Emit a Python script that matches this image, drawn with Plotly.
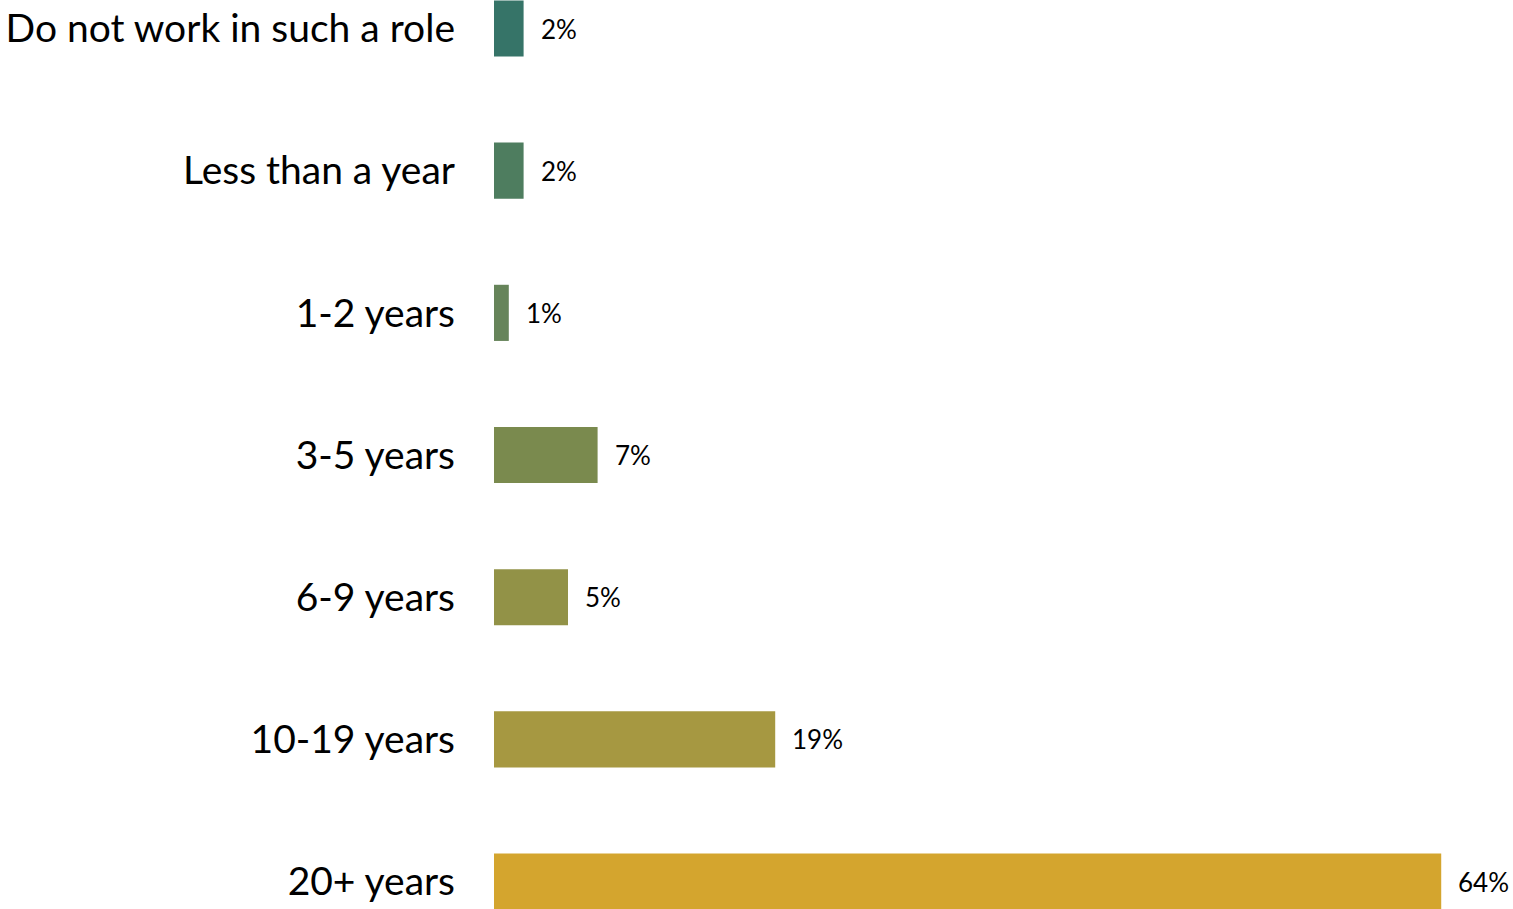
import plotly.graph_objects as go

# Years working in such a role (share of respondents, %)
categories = [
    "Do not work in such a role",
    "Less than a year",
    "1-2 years",
    "3-5 years",
    "6-9 years",
    "10-19 years",
    "20+ years",
]
values = [2, 2, 1, 7, 5, 19, 64]
value_labels = ["2%", "2%", "1%", "7%", "5%", "19%", "64%"]
bar_colors = ["#367468", "#4E7D5F", "#66845A", "#7A8A4E", "#929247", "#A69841", "#D4A52E"]

fig = go.Figure(
    go.Bar(
        x=values,
        y=categories,
        orientation="h",
        marker=dict(color=bar_colors, line=dict(width=0)),
        width=0.395,
        hoverinfo="skip",
    )
)

# value labels to the right of each bar
for cat, val, lab in zip(categories, values, value_labels):
    fig.add_annotation(
        x=val, y=cat, text=lab, showarrow=False,
        xanchor="left", yanchor="middle", xshift=15,
        font=dict(family="Lato, sans-serif", size=26, color="#000000"),
    )

fig.update_layout(
    width=1513, height=909,
    margin=dict(l=494, r=0, t=0, b=0),
    paper_bgcolor="white", plot_bgcolor="white",
    showlegend=False,
    xaxis=dict(range=[0, 68.85], visible=False, fixedrange=True),
    yaxis=dict(
        type="category",
        range=[6.193, -0.2005],
        showgrid=False, zeroline=False, showline=False,
        ticks="", ticklabelstandoff=38,
        tickfont=dict(family="Lato, sans-serif", size=39, color="#000000"),
        fixedrange=True,
    ),
)

fig.write_html("out.html")
